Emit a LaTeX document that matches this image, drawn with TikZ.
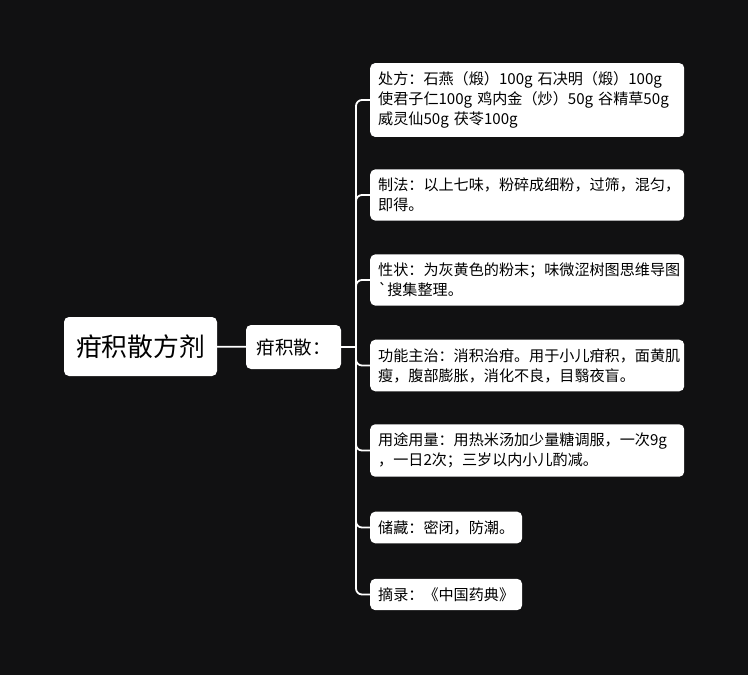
\documentclass[tikz,border=0pt]{standalone}
\usepackage{fontspec}
\setmainfont{Noto Sans CJK SC}
\newfontfamily\gravefont{Noto Sans CJK SC}
\usetikzlibrary{positioning}
\definecolor{bgdark}{HTML}{111112}
\tikzset{
	topic/.style={fill=white,rounded corners=5pt,text=black,inner sep=0pt},
	leaf/.style={fill=white,rounded corners=5pt,text=black,align=left,anchor=west,inner xsep=8pt,inner ysep=8.6pt,font=\fontsize{15.1}{20}\selectfont},
	branch/.style={draw=white,line width=1.8pt,rounded corners=6pt}
}
\begin{document}
\begin{tikzpicture}[x=1pt,y=-1pt]
	\fill[bgdark] (0,0) rectangle (748,675);
	\node[topic,minimum width=153pt,minimum height=59pt,font=\fontsize{25.8}{28}\selectfont] (root) at (140.5,346.5) {疳积散方剂};
	\node[topic,minimum width=95pt,minimum height=44pt,font=\fontsize{18.5}{20}\selectfont] (herb) at (293.5,347) {疳积散：};
	\coordinate (hub) at (356,347);
	\node[leaf,text width=298pt] (recipe) at (370,100) {处方：石燕（煅）100g 石决明（煅）100g\\使君子仁100g 鸡内金（炒）50g 谷精草50g\\威灵仙50g 茯苓100g};
	\node[leaf,text width=298pt] (making) at (370,195) {制法：以上七味，粉碎成细粉，过筛，混匀，\\即得。};
	\node[leaf,text width=298pt] (trait) at (370,280) {性状：为灰黄色的粉末；味微涩树图思维导图\\{\gravefont\char"60}搜集整理。};
	\node[leaf,text width=298pt] (effect) at (370,365.5) {功能主治：消积治疳。用于小儿疳积，面黄肌\\瘦，腹部膨胀，消化不良，目翳夜盲。};
	\node[leaf,text width=298pt] (usage) at (370,450.5) {用途用量：用热米汤加少量糖调服，一次9g\\，一日2次；三岁以内小儿酌减。};
	\node[leaf] (store) at (370,527.5) {储藏：密闭，防潮。};
	\node[leaf] (source) at (370,594.5) {摘录：《中国药典》};
	\draw[branch] (root) -- (herb);
	\draw[branch] (herb) -- (hub);
	\foreach \n in {recipe,making,trait,effect,usage,store,source}{
		\draw[branch] (hub) |- (\n.west);
		}
\end{tikzpicture}
\end{document}
